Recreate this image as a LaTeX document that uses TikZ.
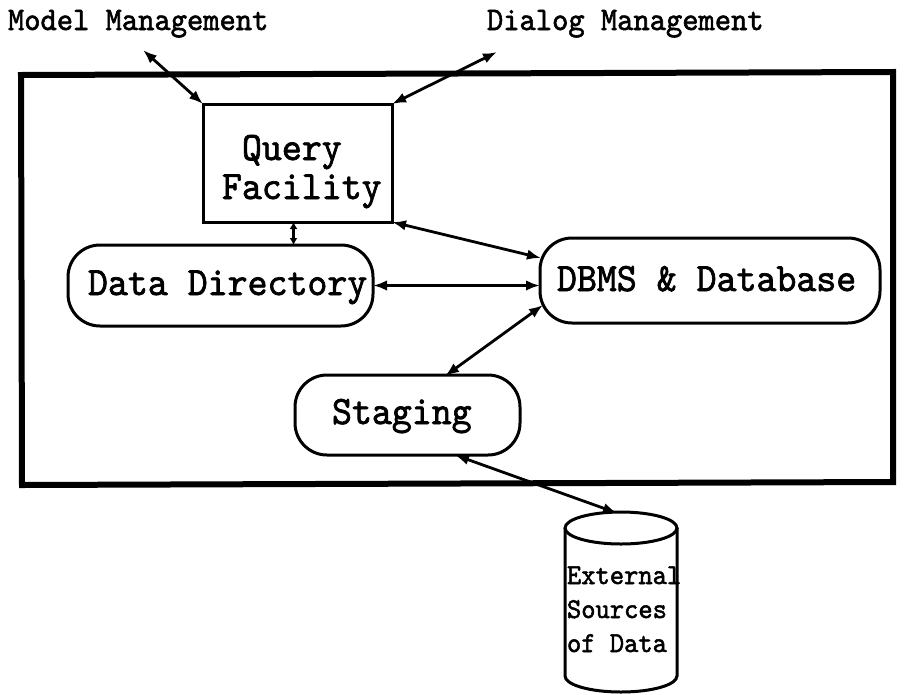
\documentclass[tikz,border=0pt]{standalone}
\usepackage{fontspec}
\newfontfamily\typew{lmmono10-regular}[Extension=.otf, FakeBold=1.8]
\usetikzlibrary{arrows.meta,calc}
% typewriter lettering is a little taller than Latin Modern Mono
\newcommand\tallt[1]{\scalebox{1}[1.06]{#1}}

\begin{document}
\begin{tikzpicture}[x=1pt,y=-1pt,
  every node/.style={inner sep=0pt, outer sep=0pt},
  toplbl/.style={font=\typew\fontsize{31}{34}\selectfont, anchor=base west},
  lbl/.style={font=\typew\fontsize{38}{40}\selectfont, anchor=base west},
  cyllbl/.style={font=\typew\fontsize{27.2}{30}\selectfont, anchor=base west},
  boxshape/.style={draw, line width=3pt, rectangle},
  pill/.style={draw, line width=3pt, rectangle, rounded corners=32pt},
  hole/.style={draw=none, rectangle},
  link/.style={line width=2.8pt,
    {Latex[length=14pt,width=10.5pt]}-{Latex[length=14pt,width=10.5pt]}},
  shortlink/.style={line width=2.4pt,
    {Latex[length=7pt,width=8pt]}-{Latex[length=7pt,width=8pt]}},
]
\useasboundingbox (0,0) rectangle (912,694);

% outer subsystem frame
\draw[line width=6pt, line join=miter] (21,75) -- (893,72) -- (893,482) -- (22,485) -- cycle;

% components
\node[boxshape, minimum width=189pt, minimum height=118pt] (qf) at (297.5,163) {};
\node[pill, minimum width=305pt, minimum height=81pt] (dd) at (220.5,285.5) {};
\node[pill, minimum width=340pt, minimum height=85pt] (db) at (710,280.5) {};
\node[pill, minimum width=225pt, minimum height=80pt] (stg) at (407.5,415) {};

% external data store (cylinder)
\node[hole, minimum width=112pt, minimum height=180pt] (ext) at (621,602) {};
\draw[line width=3pt] ($(ext.north)+(0,16)$) ellipse [x radius=56, y radius=16];
\draw[line width=3pt] ($(ext.north west)+(0,16)$) -- ($(ext.south west)+(0,-16)$)
  arc[start angle=180, end angle=0, x radius=56, y radius=16]
  -- ($(ext.north east)+(0,16)$);

% labels
\node[toplbl] (t-mm) at (8,30) {\tallt{Model Management}};
\node[toplbl] (t-dm) at (487,30) {\tallt{Dialog Management}};
\node[lbl] (t-q1) at (242,160) {\tallt{Query}};
\node[lbl] (t-q2) at (222,199) {\tallt{Facility}};
\node[lbl] (t-dd) at (88,295) {\tallt{Data Directory}};
\node[lbl] (t-db) at (557,291) {\tallt{DBMS \& Database}};
\node[lbl] (t-st) at (332,424) {\tallt{Staging}};
\node[cyllbl] (t-e1) at (567,584) {\tallt{External}};
\node[cyllbl] (t-e2) at (567,618) {\tallt{Sources}};
\node[cyllbl] (t-e3) at (567,652) {\tallt{of Data}};

% free ends towards the other subsystems
\coordinate (mm-end) at (143,50);
\coordinate (dm-end) at (497,52);

% connectors
\draw[link] (mm-end) -- (qf.north west);
\draw[link] (dm-end) -- (qf.north east);
\draw[shortlink] ([xshift=-4pt]qf.south) -- ([xshift=-4pt]qf.south |- dd.north);
\draw[link] (qf.south east) -- ($(db.west)+(1,-22.5)$);
\draw[link] (dd.east) -- (dd.east -| db.west);
\draw[link] ($(db.west)+(3,24.5)$) -- ($(stg.north)+(37.5,1)$);
\draw[link] ($(stg.south)+(47.5,0)$) -- ($(ext.north)+(-4,1)$);
\end{tikzpicture}
\end{document}
